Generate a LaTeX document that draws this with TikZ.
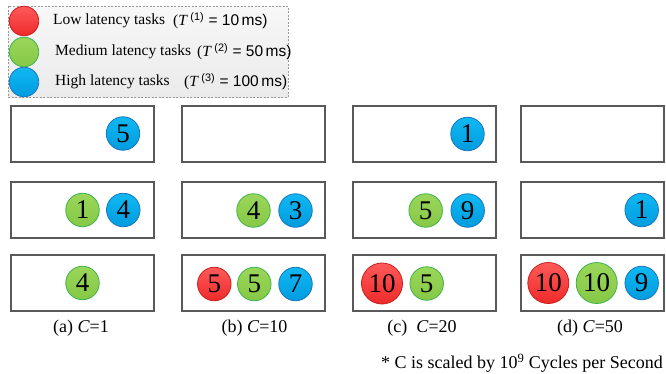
\documentclass[tikz,border=0pt]{standalone}
\usepackage{fontspec}
\setmainfont{Liberation Serif}
\newfontfamily\sansf{Liberation Sans}
\definecolor{redT}{HTML}{FF5A5A}
\definecolor{redB}{HTML}{EE2A2A}
\definecolor{redD}{HTML}{C81E1E}
\definecolor{grnT}{HTML}{9AD65A}
\definecolor{grnB}{HTML}{86C846}
\definecolor{grnD}{HTML}{3CB44B}
\definecolor{bluT}{HTML}{10B8F2}
\definecolor{bluB}{HTML}{009CDF}
\definecolor{bluD}{HTML}{1C75BC}
\definecolor{boxD}{HTML}{595959}
\tikzset{
  redball/.style={top color=redT, bottom color=redB, draw=redD},
  grnball/.style={top color=grnT, bottom color=grnB, draw=grnD},
  bluball/.style={top color=bluT, bottom color=bluB, draw=bluD},
  task/.style={circle, inner sep=0pt, minimum size=33.5pt, line width=0.8pt, font=\rmfamily\fontsize{27}{27}\selectfont},
  widetask/.style={minimum size=41pt},
  lo/.style={task, redball},
  md/.style={task, grnball},
  hi/.style={task, bluball},
  lgd/.style={circle, inner sep=0pt, minimum size=29.5pt, line width=0.8pt},
  cpu/.style={draw=boxD, line width=1.1pt, fill=white},
  ltxt/.style={anchor=west, inner sep=0pt, font=\rmfamily\fontsize{15.5}{15.5}\selectfont},
  captxt/.style={inner sep=0pt, font=\rmfamily\fontsize{18}{18}\selectfont},
}
\begin{document}
\begin{tikzpicture}[x=1pt,y=-1pt]
\useasboundingbox (0,0) rectangle (666,373);
% legend
\node[draw=gray!80, dash pattern=on 2pt off 1.5pt, line width=0.8pt, top color=gray!6, bottom color=gray!16, minimum width=280pt, minimum height=91pt, inner sep=0pt] (legend) at (148,51.5) {};
\node[lgd, redball] (lr) at (24,21) {};
\node[lgd, grnball] (lg) at (24,52) {};
\node[lgd, bluball] (lb) at (24,82) {};
\node[ltxt] (t1) at (53,21) {Low latency tasks};
\node[ltxt] (t2) at (55,52) {Medium latency tasks};
\node[ltxt] (t3) at (55,82) {High latency tasks};
\node[ltxt] (p1) at (173,21) {(\textit{T}\,\textsuperscript{\sansf(1)}{\sansf\ =\ 10\,ms)}};
\node[ltxt] (p2) at (197,52) {(\textit{T}\,\textsuperscript{\sansf(2)}{\sansf\ =\ 50\,ms)}};
\node[ltxt] (p3) at (184,82) {(\textit{T}\,\textsuperscript{\sansf(3)}{\sansf\ =\ 100\,ms)}};
% boxes
\foreach \c/\x in {a/11,b/182,c/353,d/521}{
  \foreach \r/\y in {1/106,2/182,3/255}{
    \draw[cpu] (\x,\y) rectangle ++(143,56) coordinate (box\c\r);
  }
}
% column a
\node[hi] (a1b) at (123,133.5) {5};
\node[md] (a2g) at (82.5,210) {1};
\node[hi] (a2b) at (123.3,210) {4};
\node[md] (a3g) at (82.5,283) {4};
% column b
\node[md] (b2g) at (253.5,210.5) {4};
\node[hi] (b2b) at (295.5,210.5) {3};
\node[lo] (b3r) at (214.3,284) {5};
\node[md] (b3g) at (254.3,284) {5};
\node[hi] (b3b) at (295.5,284) {7};
% column c
\node[hi] (c1b) at (467.5,134) {1};
\node[md] (c2g) at (425.7,210.5) {5};
\node[hi] (c2b) at (467.7,210.5) {9};
\node[lo, widetask] (c3r) at (382,283.5) {10};
\node[md] (c3g) at (426.7,283.5) {5};
% column d
\node[hi] (d2b) at (641.7,210) {1};
\node[lo, widetask] (d3r) at (548.3,283) {10};
\node[md, widetask] (d3g) at (596.7,283) {10};
\node[hi] (d3b) at (641.7,283) {9};
% captions
\node[captxt] (ca) at (81,328) {(a) \textit{C}=1};
\node[captxt] (cb) at (254.5,328) {(b) \textit{C}=10};
\node[captxt] (cc) at (422,328) {(c)\ \ \textit{C}=20};
\node[captxt] (cd) at (590,328) {(d) \textit{C}=50};
\node[captxt, anchor=east] (note) at (663,363) {* C is scaled by 10\textsuperscript{9} Cycles per Second};
\end{tikzpicture}
\end{document}
